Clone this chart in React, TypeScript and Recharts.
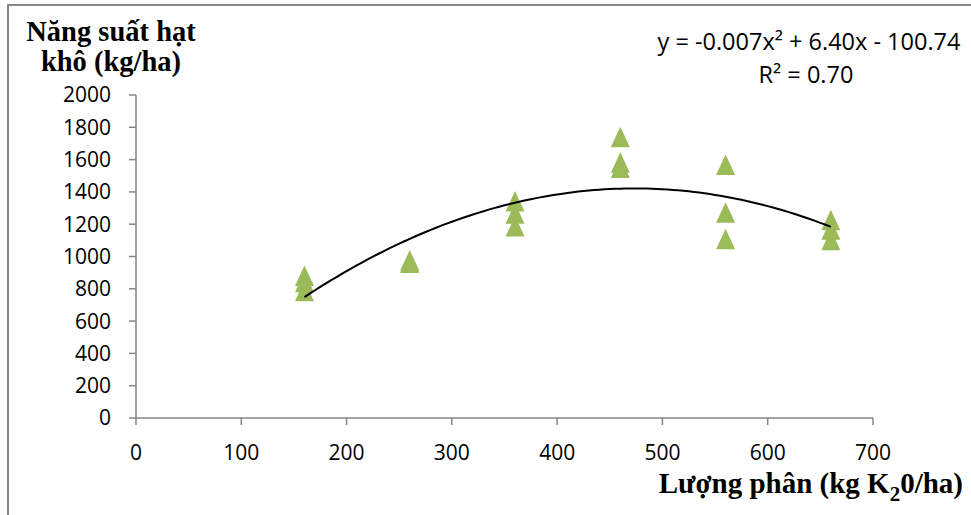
import React from 'react';
import { ScatterChart, Scatter, XAxis, YAxis } from 'recharts';

const xLevels = [160, 160, 160, 260, 260, 260, 360, 360, 360, 460, 460, 460, 560, 560, 560, 660, 660, 660];
const yields = [880, 840, 785, 975, 965, 960, 1340, 1265, 1185, 1738, 1580, 1548, 1567, 1271, 1107, 1225, 1165, 1100];

const xTicks = [0, 100, 200, 300, 400, 500, 600, 700];
const yTicks = [0, 200, 400, 600, 800, 1000, 1200, 1400, 1600, 1800, 2000];

const points = xLevels.map((x, i) => ({ x, y: yields[i] }));

// Quadratic least-squares trendline (as Excel does) fitted to the points above
function fitQuadratic(xs: number[], ys: number[]) {
  const s = [0, 0, 0, 0, 0];
  const t = [0, 0, 0];
  xs.forEach((x, i) => {
    for (let k = 0; k < 5; k++) s[k] += Math.pow(x, k);
    for (let k = 0; k < 3; k++) t[k] += Math.pow(x, k) * ys[i];
  });
  const A = [
    [s[0], s[1], s[2], t[0]],
    [s[1], s[2], s[3], t[1]],
    [s[2], s[3], s[4], t[2]],
  ];
  for (let c = 0; c < 3; c++) {
    for (let r = c + 1; r < 3; r++) {
      const f = A[r][c] / A[c][c];
      for (let k = c; k < 4; k++) A[r][k] -= f * A[c][k];
    }
  }
  const coef = [0, 0, 0];
  for (let r = 2; r >= 0; r--) {
    let v = A[r][3];
    for (let k = r + 1; k < 3; k++) v -= A[r][k] * coef[k];
    coef[r] = v / A[r][r];
  }
  return coef; // c0 + c1 x + c2 x^2
}
const coef = fitQuadratic(xLevels, yields);
const trend: { x: number; y: number }[] = [];
for (let x = 160; x <= 660; x += 5) trend.push({ x, y: coef[0] + coef[1] * x + coef[2] * x * x });

const GREEN = '#9BBB59';
const AXIS = '#868686';
const SANS = '"Open Sans", sans-serif';
const SERIF = '"Liberation Serif", "Times New Roman", serif';

const Tri = (props: any) => {
  const { cx, cy } = props;
  if (cx == null || cy == null) return <g />;
  return <path d={`M${cx},${cy - 10.5}L${cx + 9.5},${cy + 10}L${cx - 9.5},${cy + 10}Z`} fill={GREEN} />;
};
const NoDot = () => <g />;

export default function App() {
  return (
    <div style={{ position: 'absolute', left: 0, top: 0, width: 971, height: 515, background: '#fff', overflow: 'hidden' }}>
      <div style={{ position: 'absolute', left: 7, top: 4, width: 980, height: 530, borderLeft: `2px solid ${AXIS}`, borderTop: `2px solid ${AXIS}` }} />
      <ScatterChart width={971} height={515} margin={{ top: 95, right: 98, bottom: 67, left: 86 }} style={{ position: 'absolute', left: 0, top: 0 }}>
        <XAxis
          type="number"
          dataKey="x"
          domain={[0, 700]}
          ticks={xTicks}
          height={30}
          stroke={AXIS}
          strokeWidth={1.5}
          tickSize={7}
          tickMargin={20}
          tick={{ fill: '#000', fontSize: 21, fontFamily: SANS }}
          allowDataOverflow
        />
        <YAxis
          type="number"
          dataKey="y"
          domain={[0, 2000]}
          ticks={yTicks}
          width={50}
          stroke={AXIS}
          strokeWidth={1.5}
          tickSize={7}
          tickMargin={18}
          tick={{ fill: '#000', fontSize: 21, fontFamily: SANS }}
          allowDataOverflow
        />
        <Scatter data={points} shape={Tri} isAnimationActive={false} />
        <Scatter data={trend} shape={NoDot} line={{ stroke: '#000', strokeWidth: 2, fill: 'none' }} lineType="joint" isAnimationActive={false} />
      </ScatterChart>
      <svg width={971} height={515} style={{ position: 'absolute', left: 0, top: 0, pointerEvents: 'none' }}>
        <text x={111} y={41} textAnchor="middle" fontFamily={SERIF} fontWeight="bold" fontSize={28.5} fill="#000">Năng suất hạt</text>
        <text x={111} y={71} textAnchor="middle" fontFamily={SERIF} fontWeight="bold" fontSize={28.5} fill="#000">khô (kg/ha)</text>
        <text x={809} y={50} textAnchor="middle" fontFamily={SANS} fontSize={23.5} fill="#000">y = -0.007x² + 6.40x - 100.74</text>
        <text x={806} y={83} textAnchor="middle" fontFamily={SANS} fontSize={23.5} fill="#000">R² = 0.70</text>
        <text x={963} y={493} textAnchor="end" fontFamily={SERIF} fontWeight="bold" fontSize={29} fill="#000">
          Lượng phân (kg K<tspan dy={8} fontSize={21}>2</tspan><tspan dy={-8}>0/ha)</tspan>
        </text>
      </svg>
    </div>
  );
}
